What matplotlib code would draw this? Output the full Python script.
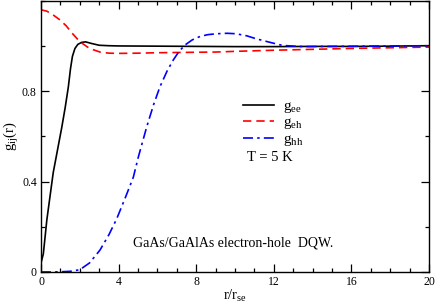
"""Pair correlation functions g_ij(r) for GaAs/GaAlAs DQW -> out.png."""
import matplotlib
matplotlib.use('Agg')
import matplotlib.pyplot as plt
from matplotlib.ticker import MultipleLocator

plt.rcParams['font.family'] = ['Liberation Serif', 'DejaVu Serif']
plt.rcParams['mathtext.fontset'] = 'custom'
plt.rcParams['mathtext.rm'] = 'Liberation Serif'
plt.rcParams['mathtext.it'] = 'Liberation Serif'

# values
r_ee = [0, 0.12, 0.3, 0.63, 0.85, 1.07, 1.25, 1.41, 1.52, 1.62, 1.75, 1.9, 2.1, 2.3, 2.6, 3.0, 3.5, 4, 6, 8, 10, 12, 14, 16, 18, 20]
g_ee = [0.04, 0.08, 0.23, 0.44, 0.54, 0.64, 0.73, 0.82, 0.9, 0.955, 0.99, 1.008, 1.017, 1.019, 1.012, 1.004, 1.002, 1.001, 1.0, 0.999, 0.998, 0.998, 0.999, 0.999, 1.0, 1.002]

r_eh = [0, 0.3, 0.6, 0.98, 1.3, 1.6, 2.0, 2.5, 3.04, 3.5, 4, 5, 6, 8, 9, 10, 12, 14, 16, 18, 20]
g_eh = [1.161, 1.155, 1.14, 1.116, 1.09, 1.058, 1.02, 0.99, 0.974, 0.969, 0.968, 0.969, 0.971, 0.973, 0.974, 0.977, 0.982, 0.986, 0.99, 0.993, 0.996]

r_hh = [0, 0.5, 1.0, 1.5, 2.0, 2.5, 3.04, 3.5, 3.9, 4.35, 4.76, 5.02, 5.45, 5.8, 6.13, 6.5, 6.82, 7.1, 7.42, 7.8, 8.2, 8.6, 9.06, 9.6, 10.05, 10.6, 11.08, 11.8, 12.46, 13.5, 15, 17, 20]
g_hh = [0.0, 0.0, 0.001, 0.003, 0.01, 0.04, 0.097, 0.165, 0.235, 0.33, 0.42, 0.51, 0.643, 0.74, 0.82, 0.89, 0.939, 0.975, 1.005, 1.028, 1.043, 1.051, 1.055, 1.057, 1.055, 1.046, 1.033, 1.017, 1.003, 0.998, 0.999, 1.0, 1.002]

x_ticks = [0, 4, 8, 12, 16, 20]
y_ticks = [0, 0.4, 0.8]
y_tick_labels = ['0', '0.4', '0.8']

fig = plt.figure(figsize=(4.36, 3.06), dpi=100)
ax = fig.add_axes([41 / 436, 34 / 306, 388 / 436, 271 / 306])

ax.plot(r_ee, g_ee, color='black', lw=1.2, label=r'g$_{\rm ee}$')
ax.plot(r_eh, g_eh, color='red', lw=1.2, dashes=(5, 3), label=r'g$_{\rm eh}$')
ax.plot(r_hh, g_hh, color='blue', lw=1.2, dashes=(6, 2.5, 1.5, 2.5), label=r'g$_{\rm hh}$')

ax.set_xlim(0, 20)
ax.set_ylim(0, 1.2)
ax.set_xticks(x_ticks)
ax.set_xticklabels([str(v) for v in x_ticks])
ax.xaxis.set_minor_locator(MultipleLocator(1))
ax.set_yticks(y_ticks)
ax.set_yticklabels(y_tick_labels)
ax.yaxis.set_minor_locator(MultipleLocator(0.2))
ax.tick_params(which='both', direction='in', top=True, right=True, labelsize=8.5, width=0.9)
ax.tick_params(which='major', length=6, pad=3)
ax.tick_params(which='minor', length=3)
for s in ax.spines.values():
    s.set_linewidth(1.0)

ax.set_xlabel(r'r/r$_{\rm se}$', fontsize=10.5, labelpad=0)
ax.set_ylabel(r'g$_{\rm ij}$(r)', fontsize=10.5, labelpad=1)

ax.legend(loc='upper left', bbox_to_anchor=(0.505, 0.66), frameon=False, fontsize=11,
          handlelength=2.0, handletextpad=0.6, labelspacing=0.05, borderaxespad=0)
ax.text(10.6, 0.49, 'T = 5 K', fontsize=10.5)
ax.text(9.9, 0.115, 'GaAs/GaAlAs electron-hole  DQW.', fontsize=10, ha='center')

fig.savefig('out.png', dpi=100)
